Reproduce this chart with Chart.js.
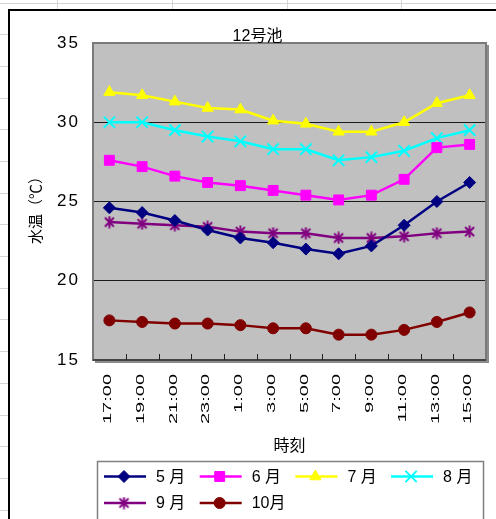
<!DOCTYPE html>
<html>
<head>
<meta charset="utf-8">
<title>12号池</title>
<script src="https://cdn.jsdelivr.net/npm/chart.js"></script>
<style>
  html, body { margin: 0; padding: 0; background: #fff; overflow: hidden; }
  #wrap { position: relative; width: 496px; height: 519px; }
</style>
</head>
<body>
<div id="wrap"><canvas id="c" width="496" height="519"></canvas></div>
<script>
// Sampling times (hourly, every 2 hours from 17:00 to 15:00 next day)
const times = ['17:00', '19:00', '21:00', '23:00', '1:00', '3:00', '5:00', '7:00', '9:00', '11:00', '13:00', '15:00'];

// Water temperature (°C) per month
const may  = [24.6, 24.3, 23.8, 23.2, 22.7, 22.4, 22.0, 21.7, 22.2, 23.5, 25.0, 26.2];
const jun  = [27.6, 27.2, 26.6, 26.2, 26.0, 25.7, 25.4, 25.1, 25.4, 26.4, 28.4, 28.6];
const jul  = [31.9, 31.7, 31.3, 30.9, 30.8, 30.1, 29.9, 29.4, 29.4, 30.0, 31.2, 31.7];
const aug  = [30.0, 30.0, 29.5, 29.1, 28.8, 28.3, 28.3, 27.6, 27.8, 28.2, 29.0, 29.5];
const sep  = [23.7, 23.6, 23.5, 23.4, 23.1, 23.0, 23.0, 22.7, 22.7, 22.8, 23.0, 23.1];
const oct  = [17.5, 17.4, 17.3, 17.3, 17.2, 17.0, 17.0, 16.6, 16.6, 16.9, 17.4, 18.0];

const monthNames = ['5 月', '6 月', '7 月', '8 月', '9 月', '10月'];
const yTicks = [15, 20, 25, 30, 35];

const FONT = "'Liberation Sans', 'Noto Sans CJK JP', Arial, sans-serif";

// asterisk marker (X plus vertical bar)
function asteriskMarker(color) {
  const c = document.createElement('canvas');
  c.width = 13; c.height = 13;
  const g = c.getContext('2d');
  g.strokeStyle = color; g.lineWidth = 2; g.lineCap = 'butt';
  g.beginPath();
  g.moveTo(2, 2); g.lineTo(11, 11);
  g.moveTo(11, 2); g.lineTo(2, 11);
  g.moveTo(6.5, 0.5); g.lineTo(6.5, 12.5);
  g.stroke();
  return c;
}

function series(label, data, color, style, radius, bw) {
  return {
    label, data,
    borderColor: color, backgroundColor: color,
    pointBackgroundColor: color, pointBorderColor: color,
    pointStyle: style, pointRadius: radius, pointHoverRadius: radius,
    pointBorderWidth: bw, borderWidth: 2.5, tension: 0
  };
}

const datasets = [
  series(monthNames[0], may, '#000080', 'rectRot', 6, 1),
  series(monthNames[1], jun, '#ff00ff', 'rect', 7, 1),
  series(monthNames[2], jul, '#ffff00', 'triangle', 6.5, 1),
  series(monthNames[3], aug, '#00ffff', 'crossRot', 8, 2),
  series(monthNames[4], sep, '#800080', asteriskMarker('#800080'), 6, 1),
  series(monthNames[5], oct, '#800000', 'circle', 5.5, 1)
];

// spreadsheet cells behind the chart object, chart-object frame and plot fill
const backdrop = {
  id: 'backdrop',
  beforeDraw(chart) {
    const ctx = chart.ctx, a = chart.chartArea;
    ctx.save();
    ctx.fillStyle = '#fff';
    ctx.fillRect(0, 0, chart.width, chart.height);
    ctx.strokeStyle = '#d6d6d6';
    ctx.lineWidth = 1;
    ctx.beginPath();
    for (let y = 2.5; y < chart.height; y += 31.7) {
      const yy = Math.round(y) + 0.5;
      ctx.moveTo(0, yy); ctx.lineTo(chart.width, yy);
    }
    [57.5, 172.5, 287.5, 401.5].forEach(x => { ctx.moveTo(x, 0); ctx.lineTo(x, chart.height); });
    ctx.stroke();
    // chart object
    ctx.fillStyle = '#fff';
    ctx.fillRect(9, 10, chart.width, chart.height);
    ctx.strokeStyle = '#000';
    ctx.lineWidth = 2;
    ctx.beginPath();
    ctx.moveTo(9, chart.height + 5); ctx.lineTo(9, 10); ctx.lineTo(chart.width + 5, 10);
    ctx.stroke();
    // plot area
    ctx.fillStyle = '#c0c0c0';
    ctx.fillRect(a.left, a.top, a.right - a.left, a.bottom - a.top);
    ctx.restore();
    ctx.letterSpacing = '2px';
  },
  beforeDatasetsDraw(chart) {
    const ctx = chart.ctx, a = chart.chartArea, xs = chart.scales.x;
    ctx.letterSpacing = '0px';
    ctx.save();
    // frame with shadow on the right and bottom
    ctx.strokeStyle = '#7a7a7a';
    ctx.lineWidth = 2;
    ctx.strokeRect(a.left, a.top, a.right - a.left, a.bottom - a.top);
    ctx.strokeStyle = '#8c8c8c';
    ctx.lineWidth = 2;
    ctx.beginPath();
    ctx.moveTo(a.right + 2, a.top + 2); ctx.lineTo(a.right + 2, a.bottom + 2); ctx.lineTo(a.left + 2, a.bottom + 2);
    ctx.stroke();
    ctx.strokeStyle = '#333';
    ctx.lineWidth = 1.5;
    ctx.beginPath();
    ctx.moveTo(a.left, a.bottom); ctx.lineTo(a.right, a.bottom);
    ctx.stroke();
    // inner tick marks between categories
    const step = xs.getPixelForValue(1) - xs.getPixelForValue(0);
    ctx.strokeStyle = '#222';
    ctx.lineWidth = 1;
    ctx.beginPath();
    for (let i = 1; i < times.length; i++) {
      const x = Math.round(xs.getPixelForValue(i) - step / 2) + 0.5;
      ctx.moveTo(x, a.bottom); ctx.lineTo(x, a.bottom - 6);
    }
    ctx.stroke();
    ctx.restore();
  },
  afterDraw(chart) {
    const ctx = chart.ctx, a = chart.chartArea, xs = chart.scales.x;
    ctx.save();
    ctx.letterSpacing = '0px';
    ctx.fillStyle = '#000';
    ctx.textAlign = 'center';
    ctx.textBaseline = 'middle';
    // chart title
    ctx.font = '16px ' + FONT;
    ctx.fillText('12号池', 257.5, 36.5);
    // x axis title
    ctx.fillText('時刻', 289.5, 447);
    // y axis title
    ctx.save();
    ctx.translate(37, 206.5);
    ctx.rotate(-Math.PI / 2);
    ctx.font = '15px ' + FONT;
    ctx.fillText('水温（℃）', 0, 0);
    ctx.restore();
    // category labels, rotated and stretched along the text
    ctx.font = '10px ' + FONT;
    ctx.textAlign = 'right';
    times.forEach((t, i) => {
      const x = xs.getPixelForValue(i);
      ctx.save();
      ctx.translate(x - 1, a.bottom + 14);
      ctx.rotate(-Math.PI / 2);
      ctx.scale(2, 1);
      ctx.fillText(t, 0, 0);
      ctx.restore();
    });
    // legend
    ctx.strokeStyle = '#808080';
    ctx.lineWidth = 1.5;
    ctx.strokeRect(97.5, 461.5, 386, 90);
    const dp = Chart.helpers && Chart.helpers.drawPoint;
    chart.data.datasets.forEach((ds, i) => {
      const col = i % 4, row = Math.floor(i / 4);
      const x0 = 104 + col * 95.7, y = 476.5 + row * 26.5;
      ctx.strokeStyle = ds.borderColor;
      ctx.fillStyle = ds.borderColor;
      ctx.lineWidth = ds.borderWidth;
      ctx.beginPath();
      ctx.moveTo(x0, y); ctx.lineTo(x0 + 42, y);
      ctx.stroke();
      if (dp) {
        ctx.lineWidth = ds.pointBorderWidth;
        dp(ctx, { pointStyle: ds.pointStyle, radius: ds.pointRadius, borderWidth: ds.pointBorderWidth, rotation: 0 }, x0 + 20, y);
      }
      ctx.fillStyle = '#000';
      ctx.font = '16px ' + FONT;
      ctx.textAlign = 'left';
      ctx.fillText(ds.label, x0 + 52, y + 1);
    });
    ctx.restore();
  }
};

new Chart(document.getElementById('c'), {
  type: 'line',
  data: { labels: times, datasets },
  options: {
    responsive: false,
    animation: false,
    devicePixelRatio: 1,
    layout: { padding: { left: 0, top: 43, right: 7, bottom: 0 } },
    plugins: { legend: { display: false }, title: { display: false }, tooltip: { enabled: false } },
    scales: {
      x: {
        type: 'category',
        offset: true,
        grid: { display: false },
        border: { display: false },
        ticks: { display: false },
        afterFit(s) { s.height = 159; }
      },
      y: {
        min: 15, max: 35,
        afterBuildTicks(s) { s.ticks = yTicks.map(v => ({ value: v })); },
        grid: { color: '#1a1a1a', lineWidth: 1, drawTicks: false },
        border: { display: false },
        ticks: { color: '#000', padding: 13, font: { family: FONT, size: 17 } },
        afterFit(s) { s.width = 93; }
      }
    }
  },
  plugins: [backdrop]
});
</script>
</body>
</html>
